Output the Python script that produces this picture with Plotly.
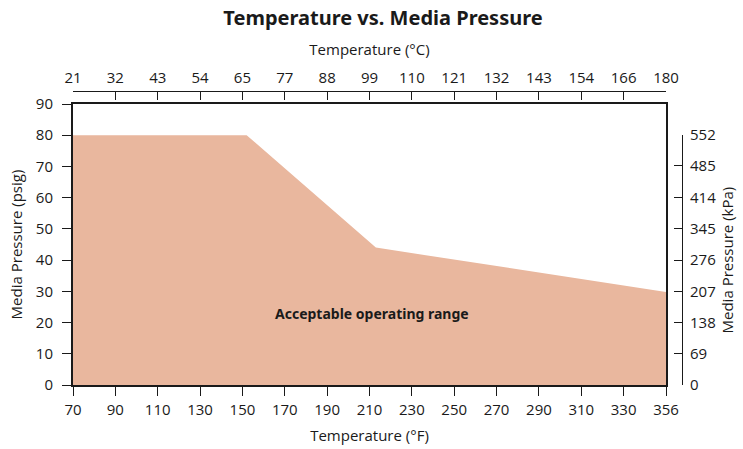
import plotly.graph_objects as go

# Data (temperature in °F, pressure in psig)
temp_f = [70, 152, 213, 350]
pressure_psig = [80, 80, 44, 29.8]

# Tick labels
f_ticks = [70, 90, 110, 130, 150, 170, 190, 210, 230, 250, 270, 290, 310, 330, 350]
f_labels = ["70", "90", "110", "130", "150", "170", "190", "210", "230", "250", "270", "290", "310", "330", "356"]
c_labels = ["21", "32", "43", "54", "65", "77", "88", "99", "110", "121", "132", "143", "154", "166", "180"]
psig_ticks = [0, 10, 20, 30, 40, 50, 60, 70, 80, 90]
kpa_ticks = [0, 69, 138, 207, 276, 345, 414, 485, 552]

FONT = "Open Sans"
TXT = "#1a1a1a"
FILL = "#E9B79E"

W, H = 743, 449
ml, mr, mt, mb = 73, 50, 91, 64
plot_left, plot_right, plot_top, plot_bottom = 73, 666, 104, 385
pw = W - ml - mr
ph = H - mt - mb
xdom_end = (plot_right - plot_left) / pw
ydom_end = (plot_bottom - plot_top) / ph
y2_pos = (682 - plot_left) / pw

fig = go.Figure()
fig.add_trace(go.Scatter(
    x=temp_f, y=pressure_psig, mode="lines", fill="tozeroy",
    fillcolor=FILL, line=dict(width=0, color=FILL), hoverinfo="skip",
    showlegend=False))
# invisible helper traces so secondary axes are drawn
fig.add_trace(go.Scatter(x=[f_ticks[0]], y=[0], xaxis="x2", yaxis="y",
                         mode="markers", marker=dict(opacity=0), showlegend=False, hoverinfo="skip"))
fig.add_trace(go.Scatter(x=[f_ticks[0]], y=[0], xaxis="x", yaxis="y2",
                         mode="markers", marker=dict(opacity=0), showlegend=False, hoverinfo="skip"))

fig.add_annotation(x=211, y=23, xref="x", yref="y", text="<b>Acceptable operating range</b>",
                   showarrow=False, font=dict(family="Noto Sans", size=14, color=TXT))

tickfont = dict(family=FONT, size=15, color=TXT)
titlefont = dict(family=FONT, size=15, color=TXT)

fig.update_layout(
    width=W, height=H,
    margin=dict(l=ml, r=mr, t=mt, b=mb, autoexpand=False),
    paper_bgcolor="white", plot_bgcolor="rgba(0,0,0,0)",
    title=dict(text="<b>Temperature vs. Media Pressure</b>", x=0.5, xref="paper", y=0.96, yref="container",
               xanchor="center", yanchor="middle",
               font=dict(family="Noto Sans", size=20, color=TXT)),
    xaxis=dict(domain=[0, xdom_end], range=[f_ticks[0], f_ticks[-1]], tickvals=f_ticks, ticktext=f_labels,
               showgrid=False, zeroline=False, showline=True, linecolor=TXT, linewidth=2, mirror=True,
               ticks="outside", ticklen=9, tickcolor=TXT, tickwidth=1, tickfont=tickfont,
               ticklabelstandoff=1,
               title=dict(text="Temperature (°F)", font=titlefont, standoff=12), automargin=False),
    xaxis2=dict(overlaying="x", side="top", anchor="free", position=1,
                range=[f_ticks[0], f_ticks[-1]], tickvals=f_ticks, ticktext=c_labels,
                showgrid=False, zeroline=False, showline=True, linecolor=TXT, linewidth=1,
                ticks="inside", ticklen=8, tickcolor=TXT, tickwidth=1, tickfont=tickfont,
                ticklabelstandoff=2,
                title=dict(text="Temperature (°C)", font=titlefont, standoff=6), automargin=False),
    yaxis=dict(domain=[0, ydom_end], range=[0, 90], tickvals=psig_ticks,
               showgrid=False, zeroline=False, showline=True, linecolor=TXT, linewidth=2, mirror=True,
               ticks="outside", ticklen=9, tickcolor=TXT, tickwidth=1, tickfont=tickfont,
               ticklabelstandoff=6,
               title=dict(text="Media Pressure (psig)", font=titlefont, standoff=10), automargin=False),
    yaxis2=dict(domain=[0, ydom_end * 80 / 90], range=[0, 552], tickvals=kpa_ticks,
                anchor="free", position=y2_pos, side="right",
                showgrid=False, zeroline=False, showline=True, linecolor=TXT, linewidth=1,
                ticks="inside", ticklen=8, tickcolor=TXT, tickwidth=1, tickfont=tickfont,
                ticklabelstandoff=4,
                title=dict(text="Media Pressure (kPa)", font=titlefont, standoff=7), automargin=False),
)

fig.write_html("out.html", config={"displayModeBar": False},
               post_script="document.body.style.margin='0';document.body.style.padding='0';")
